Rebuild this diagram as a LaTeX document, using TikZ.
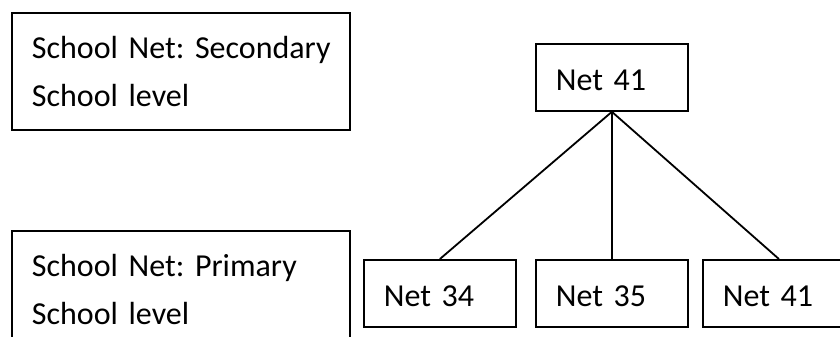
\documentclass[tikz,border=0pt]{standalone}
\usepackage{fontspec}
\setmainfont{Carlito}[WordSpace=0.65]
\frenchspacing

\tikzset{
  levelbox/.style={draw, line width=0.9pt, anchor=north west, minimum width=169pt, minimum height=58.5pt,
    text width=149pt, inner xsep=10pt, inner ysep=0pt, align=left, font=\fontsize{16}{24.15}\selectfont},
  netbox/.style={draw, line width=0.9pt, anchor=north west, minimum width=76pt, minimum height=33.5pt,
    text width=56pt, inner xsep=10pt, inner ysep=0pt, align=left, text height=13.2pt, text depth=0pt,
    font=\fontsize{16}{24.15}\selectfont}
}

\begin{document}
\begin{tikzpicture}[x=0.5pt, y=-0.5pt]
    \useasboundingbox (0,0) rectangle (840,337); % page size
    \node[levelbox] (secbox) at (11,12) {\mbox{School Net: Secondary}\\School level}; % upper label
    \node[levelbox] (pribox) at (11,230) {\mbox{School Net: Primary}\\School level}; % lower label, runs off the page
    \node[netbox] (net41top) at (535,43) {Net 41}; % secondary net
    \node[netbox] (net34) at (363,259) {Net 34}; % primary nets
    \node[netbox] (net35) at (535,259) {Net 35};
    \node[netbox] (net41) at (702,259) {Net 41};
    \draw[line width=0.9pt] (net41top.south) -- (net34.north); % links
    \draw[line width=0.9pt] (net41top.south) -- (net35.north);
    \draw[line width=0.9pt] (net41top.south) -- (net41.north);
  \end{tikzpicture}
\end{document}
